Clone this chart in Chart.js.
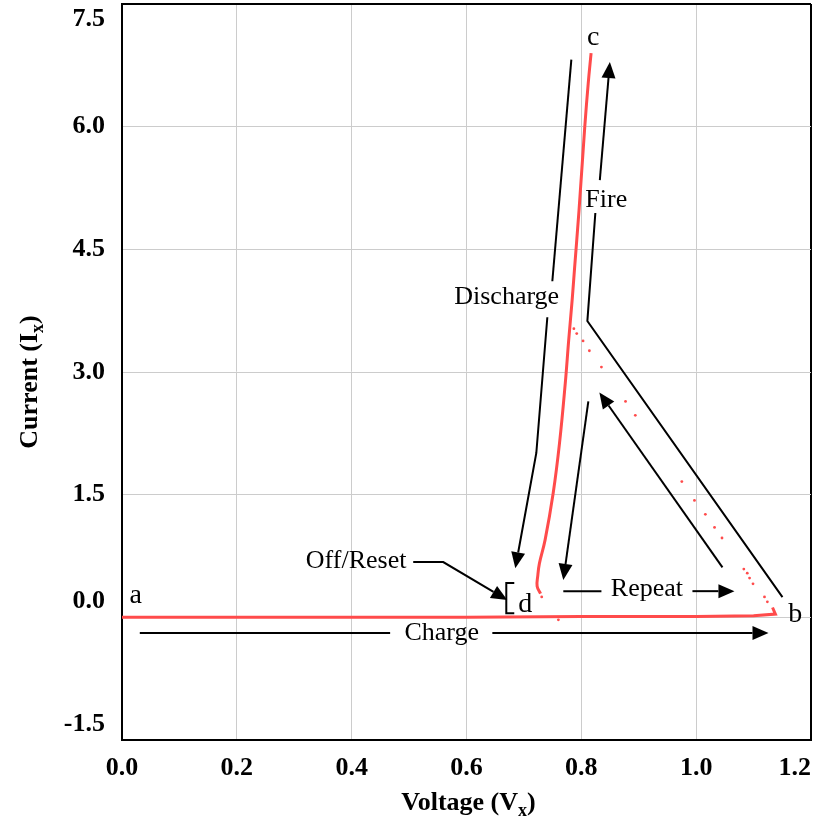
<!DOCTYPE html>
<html>
<head>
<meta charset="utf-8">
<script src="https://cdn.jsdelivr.net/npm/chart.js@4.4.1/dist/chart.umd.min.js"></script>
<style>
  html, body { margin: 0; padding: 0; background: #fff; }
  #wrap { width: 823px; height: 820px; }
</style>
</head>
<body>
<div id="wrap"><canvas id="myChart"></canvas></div>
<script>
/* globals Chart:false */

// charge: a -> b (slow, along I = 0)
const chargeV = [0.0, 0.2, 0.4, 0.6, 0.8, 1.0, 1.1, 1.138, 1.133]
const chargeI = [0.0, 0.0, 0.0, 0.0, 0.01, 0.01, 0.02, 0.04, 0.12]
// fire: b -> knee (fast, only sparse samples)
const fireV = [1.124, 1.119, 1.099, 1.093, 1.089, 1.083, 1.045, 1.032, 1.016, 0.997, 0.975, 0.894, 0.877, 0.835, 0.814, 0.803, 0.792, 0.787]
const fireI = [0.19, 0.25, 0.41, 0.48, 0.54, 0.59, 0.97, 1.10, 1.26, 1.43, 1.66, 2.47, 2.64, 3.06, 3.26, 3.38, 3.47, 3.53]
// off / reset samples near d
const resetV = [0.731, 0.760]
const resetI = [0.25, -0.03]
// spike up to c and discharge down to d
const spikeV = [0.729, 0.723, 0.724, 0.727, 0.737, 0.751, 0.762, 0.772, 0.778, 0.784, 0.788, 0.796, 0.806, 0.812, 0.817]
const spikeI = [0.29, 0.38, 0.50, 0.66, 0.95, 1.52, 2.13, 2.86, 3.39, 3.88, 4.25, 4.98, 6.00, 6.53, 6.90]

const xTicks = [0, 0.2, 0.4, 0.6, 0.8, 1.0, 1.2]
const xTickLabels = ['0.0', '0.2', '0.4', '0.6', '0.8', '1.0', '1.2']
const yTicks = [-1.5, 0, 1.5, 3.0, 4.5, 6.0, 7.5]
const yTickLabels = ['-1.5', '0.0', '1.5', '3.0', '4.5', '6.0', '7.5']

// annotation arrows, in (V, I); arrow head on the last point
const arrows = [
    { pts: [[0.031, -0.192], [0.467, -0.192]], head: false },
    { pts: [[0.645, -0.192], [1.126, -0.192]], head: true },
    { pts: [[0.7826, 6.82], [0.7495, 4.11]], head: false },
    { pts: [[0.7408, 3.67], [0.7216, 2.01], [0.685, 0.60]], head: true },
    { pts: [[1.1503, 0.248], [0.8105, 3.623], [0.8244, 4.944]], head: false },
    { pts: [[0.8322, 5.347], [0.8497, 6.79]], head: true },
    { pts: [[1.0458, 0.611], [0.8314, 2.75]], head: true },
    { pts: [[0.8122, 2.64], [0.7686, 0.458]], head: true },
    { pts: [[0.7686, 0.32], [0.835, 0.32]], head: false },
    { pts: [[0.9935, 0.32], [1.0667, 0.32]], head: true },
    { pts: [[0.5072, 0.676], [0.5595, 0.676], [0.671, 0.211]], head: true },
    { pts: [[0.6832, 0.42], [0.6693, 0.42], [0.6693, 0.049], [0.6832, 0.049]], head: false }
]
const notes = [
    { text: 'a', x: 0.024, y: 0.17, size: 28 },
    { text: 'b', x: 1.1725, y: -0.057, size: 28 },
    { text: 'c', x: 0.8209, y: 7.0, size: 28 },
    { text: 'd', x: 0.7024, y: 0.065, size: 28 },
    { text: 'Fire', x: 0.8435, y: 5.017, size: 26 },
    { text: 'Discharge', x: 0.670, y: 3.83, size: 26 },
    { text: 'Off/Reset', x: 0.4078, y: 0.603, size: 26 },
    { text: 'Repeat', x: 0.9142, y: 0.26, size: 26 },
    { text: 'Charge', x: 0.5569, y: -0.278, size: 26 }
]

const serif = "'Liberation Serif', 'Times New Roman', serif"
const red = '#ff4b4b'

function pts(xs, ys) {
    return xs.map((x, i) => ({ x: x, y: ys[i] }))
}

const notesPlugin = {
    id: 'notes',
    afterDatasetsDraw(chart) {
        const c = chart.ctx
        const sx = chart.scales.x
        const sy = chart.scales.y
        c.save()
        c.strokeStyle = '#000'
        c.fillStyle = '#000'
        c.lineWidth = 2
        c.lineJoin = 'miter'
        arrows.forEach(a => {
            const p = a.pts.map(q => [sx.getPixelForValue(q[0]), sy.getPixelForValue(q[1])])
            const n = p.length
            let end = p[n - 1]
            let dx = 0, dy = 0, len = 16, w = 7
            if (a.head) {
                dx = p[n - 1][0] - p[n - 2][0]
                dy = p[n - 1][1] - p[n - 2][1]
                const d = Math.sqrt(dx * dx + dy * dy)
                dx /= d; dy /= d
                end = [p[n - 1][0] - dx * len, p[n - 1][1] - dy * len]
            }
            c.beginPath()
            c.moveTo(p[0][0], p[0][1])
            for (let i = 1; i < n - 1; i++) c.lineTo(p[i][0], p[i][1])
            c.lineTo(end[0], end[1])
            c.stroke()
            if (a.head) {
                const tip = p[n - 1]
                c.beginPath()
                c.moveTo(tip[0], tip[1])
                c.lineTo(end[0] - dy * w, end[1] + dx * w)
                c.lineTo(end[0] + dy * w, end[1] - dx * w)
                c.closePath()
                c.fill()
            }
        })
        c.textAlign = 'center'
        c.textBaseline = 'alphabetic'
        notes.forEach(t => {
            c.font = t.size + 'px ' + serif
            c.fillText(t.text, sx.getPixelForValue(t.x), sy.getPixelForValue(t.y))
        })
        c.restore()
    },
    afterDraw(chart) {
        // axis titles with subscript x
        const c = chart.ctx
        const area = chart.chartArea
        const drawTitle = (main, sub) => {
            c.font = 'bold 26px ' + serif
            const w1 = c.measureText(main).width
            c.font = 'bold 18px ' + serif
            const w2 = c.measureText(sub).width
            c.font = 'bold 26px ' + serif
            const w3 = c.measureText(')').width
            let x = -(w1 + w2 + w3) / 2
            c.textAlign = 'left'
            c.textBaseline = 'alphabetic'
            c.fillText(main, x, 0)
            c.font = 'bold 18px ' + serif
            c.fillText(sub, x + w1, 6)
            c.font = 'bold 26px ' + serif
            c.fillText(')', x + w1 + w2, 0)
        }
        c.save()
        c.fillStyle = '#000'
        c.translate((area.left + area.right) / 2 + 2, area.bottom + 70)
        drawTitle('Voltage (V', 'x')
        c.restore()
        c.save()
        c.fillStyle = '#000'
        c.translate(37, (area.top + area.bottom) / 2 + 10)
        c.rotate(-Math.PI / 2)
        drawTitle('Current (I', 'x')
        c.restore()
    }
}

const ctx = document.getElementById('myChart')

const myChart = new Chart(ctx, {
    type: 'scatter',
    data: {
        datasets: [{
            data: pts(chargeV, chargeI),
            showLine: true,
            borderColor: red,
            borderWidth: 3,
            pointRadius: 0
        }, {
            data: pts(fireV, fireI).concat(pts(resetV, resetI)),
            showLine: false,
            backgroundColor: red,
            borderWidth: 0,
            pointRadius: 1.4
        }, {
            data: pts(spikeV, spikeI),
            showLine: true,
            borderColor: red,
            borderWidth: 3,
            pointRadius: 0,
            tension: 0.4
        }]
    },
    options: {
        responsive: true,
        maintainAspectRatio: false,
        animation: false,
        layout: {
            padding: { top: 4, right: 12, left: 0, bottom: 0 }
        },
        plugins: {
            legend: { display: false },
            tooltip: { enabled: false }
        },
        scales: {
            x: {
                type: 'linear',
                min: 0,
                max: 1.2,
                afterBuildTicks: s => { s.ticks = xTicks.map(v => ({ value: v })) },
                afterFit: s => { s.height = 80; s.paddingRight = 0; s.paddingLeft = 0 },
                ticks: {
                    // last label pushed left like the original
                    callback: (v, i) => i === xTicks.length - 1 ? xTickLabels[i] + '\u00a0\u00a0\u00a0\u00a0\u00a0' : xTickLabels[i],
                    font: { family: serif, size: 26, weight: 'bold' },
                    color: '#000',
                    padding: 13,
                    maxRotation: 0,
                    autoSkip: false
                },
                grid: {
                    drawTicks: false,
                    color: c => (c.tick && c.tick.value === 1.2) ? '#000' : '#cccccc',
                    lineWidth: c => (c.tick && c.tick.value === 1.2) ? 2 : 1
                },
                border: { color: '#000', width: 2 }
            },
            y: {
                type: 'linear',
                min: -1.5,
                max: 7.5,
                afterBuildTicks: s => { s.ticks = yTicks.map(v => ({ value: v })) },
                afterFit: s => { s.width = 122; s.paddingTop = 0; s.paddingBottom = 0 },
                ticks: {
                    // end labels sit inside the plot range
                    callback: (v, i) => {
                        const t = yTickLabels[i]
                        if (i === yTicks.length - 1) return ['', t]
                        if (i <= 1) return [t, '']
                        return t
                    },
                    font: { family: serif, size: 26, weight: 'bold' },
                    color: '#000',
                    padding: 17,
                    autoSkip: false
                },
                grid: {
                    drawTicks: false,
                    color: c => (c.tick && c.tick.value === 7.5) ? '#000' : '#cccccc',
                    lineWidth: c => (c.tick && c.tick.value === 7.5) ? 2 : 1
                },
                border: { color: '#000', width: 2 }
            }
        }
    },
    plugins: [notesPlugin]
})
</script>
</body>
</html>
